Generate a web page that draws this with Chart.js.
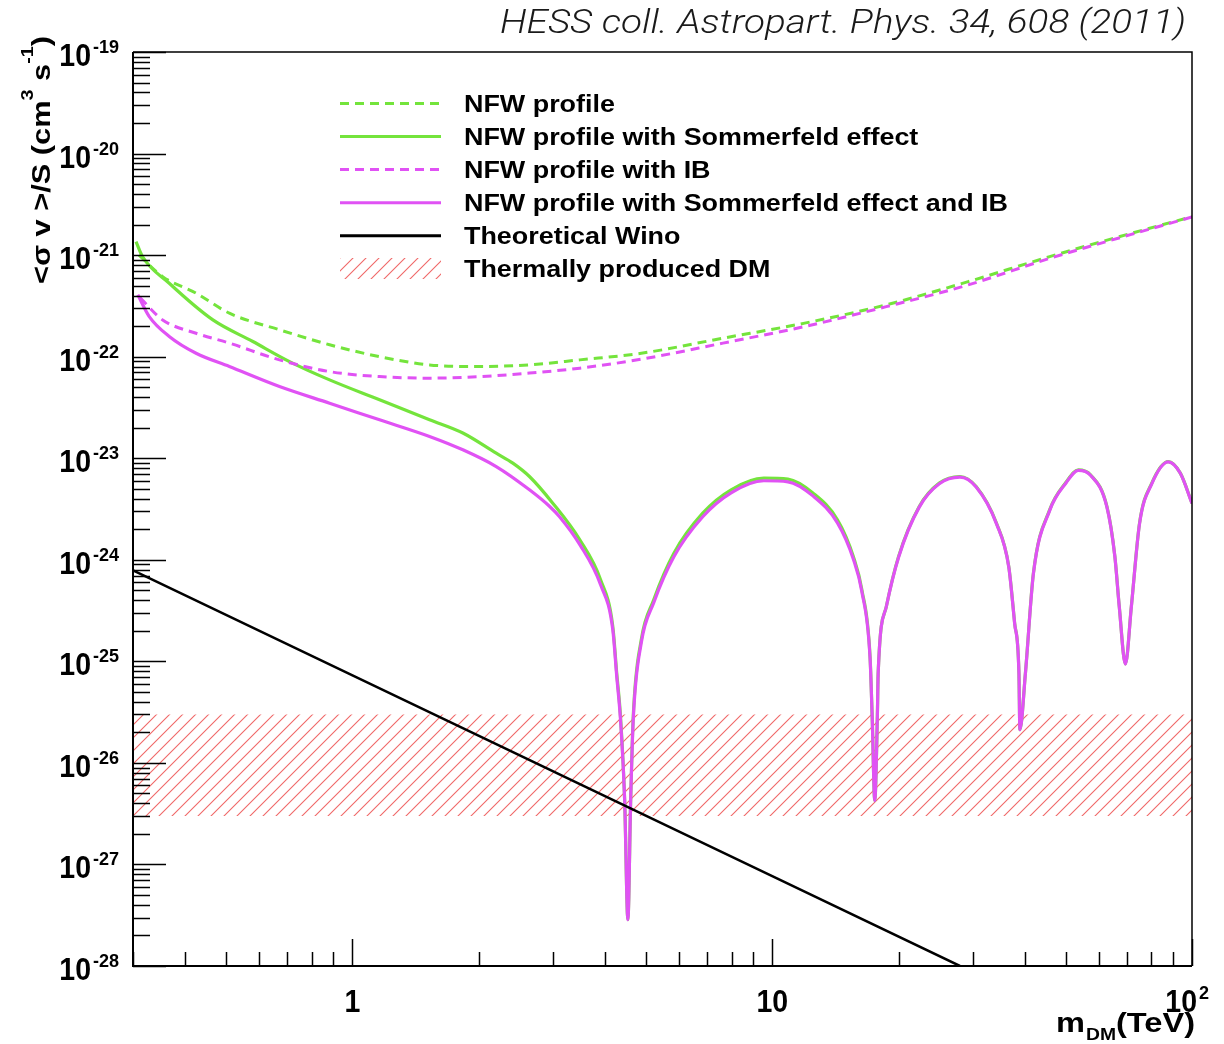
<!DOCTYPE html>
<html>
<head>
<meta charset="utf-8">
<script src="https://cdn.jsdelivr.net/npm/chart.js@4/dist/chart.umd.min.js"></script>
<style>
html,body{margin:0;padding:0;background:#fff;}
#wrap{width:1224px;height:1044px;position:relative;}
canvas{display:block;}
</style>
</head>
<body>
<div id="wrap"><canvas id="c" width="1224" height="1044"></canvas></div>
<script>
// ---------- data (m_DM in TeV, <sigma v>/S in cm^3 s^-1) ----------
const nfwMass   = [0.31, 0.353, 0.424, 0.509, 0.670, 0.882, 1.16, 1.526, 2.01, 2.64, 3.48, 4.875, 7.63, 11.95, 18.7, 29.3, 45.8, 71.7, 100];
const nfwValues = [1.0e-21, 6.14e-22, 4.22e-22, 2.68e-22, 1.84e-22, 1.31e-22, 1.0e-22, 8.3e-23, 8.0e-23, 8.3e-23, 9.3e-23, 1.08e-22, 1.52e-22, 2.14e-22, 3.24e-22, 5.48e-22, 9.66e-22, 1.64e-21, 2.39e-21];

const nfwIbMass   = [0.312, 0.353, 0.424, 0.509, 0.670, 0.882, 1.16, 1.526, 2.01, 2.64, 3.48, 4.875, 7.63, 11.95, 18.7, 29.3, 45.8, 71.7, 100];
const nfwIbValues = [3.79e-22, 2.30e-22, 1.70e-22, 1.36e-22, 9.3e-23, 7.13e-23, 6.37e-23, 6.14e-23, 6.37e-23, 6.89e-23, 7.71e-23, 9.44e-23, 1.36e-22, 1.98e-22, 3.11e-22, 5.09e-22, 9.29e-22, 1.60e-21, 2.37e-21];

const sommMass = [0.305, 0.316, 0.366, 0.465, 0.579, 0.708, 0.882, 1.16, 1.526, 1.832,
  2.20, 2.41, 2.64, 3.00, 3.48, 3.90, 4.17, 4.26, 4.35, 4.45,
  4.53, 4.60, 4.665, 4.875, 5.22, 5.83, 6.83, 7.98, 9.55, 10.9,
  12.5, 14.3, 15.6, 16.35, 17.1, 17.3, 17.55, 17.8, 17.88, 18.7,
  20.0, 22.4, 25.0, 28.0, 30.6, 34.2, 36.6, 37.8, 38.7, 38.9,
  40.1, 41.9, 45.8, 50.1, 53.6, 57.3, 62.7, 65.5, 67.1, 69.4,
  71.7, 75.0, 80.2, 87.8, 93.8, 100];
const sommValues = [1.36e-21, 9.7e-22, 5.28e-22, 2.30e-22, 1.41e-22, 8.95e-23, 5.91e-23, 3.76e-23, 2.39e-23, 1.77e-23,
  1.12e-23, 8.95e-24, 6.61e-24, 3.61e-24, 1.57e-24, 6.35e-25, 2.21e-25, 7.73e-26, 2.87e-26, 4.35e-27,
  2.86e-28, 4.35e-27, 2.87e-26, 1.63e-25, 4.04e-25, 1.16e-24, 2.88e-24, 4.89e-24, 6.37e-24, 6.22e-24,
  4.54e-24, 2.48e-24, 1.08e-24, 5.07e-25, 1.12e-25, 2.87e-26, 4.25e-27, 2.87e-26, 7.67e-26, 3.47e-25,
  1.08e-24, 3.35e-24, 5.69e-24, 6.61e-24, 5.26e-24, 2.30e-24, 8.59e-25, 2.38e-25, 7.67e-26, 2.12e-26,
  7.67e-26, 7.4e-25, 3.1e-24, 5.8e-24, 7.69e-24, 6.87e-24, 3.35e-24, 1.08e-24, 3.47e-25, 9.46e-26,
  3.47e-25, 2.30e-24, 5.69e-24, 9.27e-24, 7.13e-24, 3.61e-24];

const sommIbMass = [0.308, 0.328, 0.366, 0.424, 0.509, 0.670, 0.882, 1.16, 1.526, 1.832,
  2.20, 2.64, 2.95, 3.11, 3.48, 3.90, 4.17, 4.26, 4.35, 4.45,
  4.53, 4.60, 4.665, 4.875, 5.22, 5.83, 6.83, 7.98, 9.55, 10.9,
  12.5, 14.3, 15.6, 16.35, 17.1, 17.3, 17.55, 17.8, 17.88, 18.7,
  20.0, 22.4, 25.0, 28.0, 30.6, 34.2, 36.6, 37.8, 38.7, 38.9,
  40.1, 41.9, 45.8, 50.1, 53.6, 57.3, 62.7, 65.5, 67.1, 69.4,
  71.7, 75.0, 80.2, 87.8, 93.8, 100];
const sommIbValues = [4.06e-22, 2.48e-22, 1.58e-22, 1.08e-22, 8.0e-23, 5.08e-23, 3.48e-23, 2.39e-23, 1.64e-23, 1.21e-23,
  8.28e-24, 4.89e-24, 3.35e-24, 2.67e-24, 1.41e-24, 5.67e-25, 2.05e-25, 7.2e-26, 2.66e-26, 4.35e-27,
  2.86e-28, 4.35e-27, 2.66e-26, 1.52e-25, 3.78e-25, 1.07e-24, 2.65e-24, 4.56e-24, 6.0e-24, 5.86e-24,
  4.26e-24, 2.31e-24, 1.02e-24, 4.84e-25, 1.08e-25, 2.87e-26, 4.25e-27, 2.87e-26, 7.67e-26, 3.47e-25,
  1.06e-24, 3.3e-24, 5.6e-24, 6.5e-24, 5.2e-24, 2.27e-24, 8.5e-25, 2.35e-25, 7.6e-26, 2.12e-26,
  7.6e-26, 7.3e-25, 3.05e-24, 5.7e-24, 7.6e-24, 6.8e-24, 3.3e-24, 1.07e-24, 3.45e-25, 9.4e-26,
  3.45e-25, 2.27e-24, 5.6e-24, 9.2e-24, 7.1e-24, 3.58e-24];

const winoMass   = [0.3, 1, 10, 28];
const winoValues = [7.85e-25, 7.28e-26, 7.69e-28, 1.0e-28];

const thermalMass = [0.3, 100];
const thermalHigh = [3e-26, 3e-26];
const thermalLow  = [3e-27, 3e-27];

const legendLabels = [
  'NFW profile',
  'NFW profile with Sommerfeld effect',
  'NFW profile with IB',
  'NFW profile with Sommerfeld effect and IB',
  'Theoretical Wino',
  'Thermally produced DM'
];
const yTickExponents = ['-19','-20','-21','-22','-23','-24','-25','-26','-27','-28'];
const xTickValues = [1, 10, 100];
const xTickBase   = ['1', '10', '10'];
const xTickSup    = ['', '', '2'];
const headerText  = 'HESS coll. Astropart. Phys. 34, 608 (2011)';
const xTitleParts = ['m', 'DM', '(TeV)'];
const yTitleParts = ['<\u03c3 v >/S (cm', '3', ' s', '-1', ')'];

// ---------- styling ----------
const GREEN = '#74e43c';
const MAGENTA = '#e052f4';
const HATCH_COLOR = 'rgb(240,104,104)';

function makeHatch() {
  const n = 13;
  const c = document.createElement('canvas');
  c.width = n; c.height = n;
  const g = c.getContext('2d');
  g.strokeStyle = HATCH_COLOR;
  g.lineWidth = 1.1;
  g.beginPath();
  g.moveTo(-1, n + 1); g.lineTo(n + 1, -1);
  g.moveTo(-1, 1); g.lineTo(1, -1);
  g.moveTo(n - 1, n + 1); g.lineTo(n + 1, n - 1);
  g.stroke();
  return g.createPattern(c, 'repeat');
}
const hatch = makeHatch();

const pts = (xs, ys) => xs.map((x, i) => ({x: x, y: ys[i]}));

function drawScaled(ctx, text, x, y, font, sx, align) {
  ctx.save();
  ctx.font = font;
  ctx.translate(x, y);
  ctx.scale(sx, 1);
  ctx.textAlign = align || 'left';
  ctx.textBaseline = 'alphabetic';
  ctx.fillText(text, 0, 0);
  ctx.restore();
}

const BOLD = "'Liberation Sans', Arial, Helvetica, sans-serif";

const decor = {
  id: 'decor',
  afterDraw(chart) {
    const ctx = chart.ctx;
    const a = chart.chartArea;
    const xs = chart.scales.x, ys = chart.scales.y;
    ctx.save();
    ctx.fillStyle = '#000';
    ctx.strokeStyle = '#000';

    // frame
    ctx.lineWidth = 1.5;
    ctx.beginPath();
    ctx.moveTo(a.left, a.top); ctx.lineTo(a.right, a.top); ctx.lineTo(a.right, a.bottom);
    ctx.stroke();
    ctx.lineWidth = 2;
    ctx.beginPath();
    ctx.moveTo(a.left, a.top); ctx.lineTo(a.left, a.bottom); ctx.lineTo(a.right, a.bottom);
    ctx.stroke();

    // y ticks (inside)
    ctx.lineWidth = 1.5;
    ctx.beginPath();
    for (let e = -28; e <= -19; e++) {
      for (let k = 1; k <= 9; k++) {
        const v = k * Math.pow(10, e);
        if (v > 1.0001e-19) break;
        const py = Math.round(ys.getPixelForValue(v)) + 0.5;
        const len = k === 1 ? 33 : 17;
        ctx.moveTo(a.left, py); ctx.lineTo(a.left + len, py);
      }
    }
    // x ticks (inside)
    for (let e = -1; e <= 2; e++) {
      for (let k = 1; k <= 9; k++) {
        const v = k * Math.pow(10, e);
        if (v < 0.3 - 1e-9 || v > 100.0001) continue;
        const px = Math.round(xs.getPixelForValue(v)) + 0.5;
        const len = k === 1 ? 27 : 14;
        ctx.moveTo(px, a.bottom); ctx.lineTo(px, a.bottom - len);
      }
    }
    ctx.stroke();

    // y tick labels
    yTickExponents.forEach((ex) => {
      const py = ys.getPixelForValue(Math.pow(10, Number(ex)));
      drawScaled(ctx, '10', 91, py + 14, 'bold 31px ' + BOLD, 0.92, 'right');
      drawScaled(ctx, ex, 93, py + 1, 'bold 19px ' + BOLD, 0.95, 'left');
    });

    // x tick labels
    xTickValues.forEach((v, i) => {
      const px = xs.getPixelForValue(v);
      if (xTickSup[i]) {
        drawScaled(ctx, xTickBase[i], px + 5, 1012, 'bold 31px ' + BOLD, 0.92, 'right');
        drawScaled(ctx, xTickSup[i], px + 7, 999, 'bold 19px ' + BOLD, 0.95, 'left');
      } else {
        drawScaled(ctx, xTickBase[i], px, 1012, 'bold 31px ' + BOLD, 0.92, 'center');
      }
    });

    // x title: m_DM(TeV)
    {
      const fMain = 'bold 27px ' + BOLD, fSub = 'bold 16px ' + BOLD;
      ctx.font = fMain; const w1 = ctx.measureText(xTitleParts[0]).width, w3 = ctx.measureText(xTitleParts[2]).width;
      ctx.font = fSub; const w2 = ctx.measureText(xTitleParts[1]).width;
      const sx = 138 / (w1 + w2 + w3);
      let x = 1056;
      drawScaled(ctx, xTitleParts[0], x, 1032, fMain, sx); x += w1 * sx + 1;
      drawScaled(ctx, xTitleParts[1], x, 1040, fSub, sx); x += w2 * sx;
      drawScaled(ctx, xTitleParts[2], x, 1032, fMain, sx);
    }

    // y title rotated
    {
      const fMain = 'bold 25px ' + BOLD, fSup = 'bold 16px ' + BOLD;
      const runs = yTitleParts.map((t, i) => ({t: t, f: (i % 2 === 1) ? fSup : fMain, dy: (i % 2 === 1) ? -17 : 0}));
      let total = 0;
      runs.forEach(r => { ctx.font = r.f; r.w = ctx.measureText(r.t).width; total += r.w; });
      const sx = 248 / total;
      ctx.save();
      ctx.translate(50, 284);
      ctx.rotate(-Math.PI / 2);
      let x = 0;
      runs.forEach(r => { drawScaled(ctx, r.t, x, r.dy, r.f, sx); x += r.w * sx; });
      ctx.restore();
    }

    // header
    {
      const f = "italic 300 33px Roboto, 'Liberation Sans', sans-serif";
      ctx.font = f;
      const w = ctx.measureText(headerText).width;
      ctx.fillStyle = '#1a1a1a';
      drawScaled(ctx, headerText, 500, 33, f, 686 / w);
      ctx.fillStyle = '#000';
    }

    // legend
    {
      const f = 'bold 24px ' + BOLD;
      ctx.font = f;
      const sx = 544 / ctx.measureText(legendLabels[3]).width;
      const styles = [
        {c: GREEN, d: [9, 6]}, {c: GREEN, d: []}, {c: MAGENTA, d: [9, 6]},
        {c: MAGENTA, d: []}, {c: '#000', d: []}, {hatch: true}
      ];
      legendLabels.forEach((lab, i) => {
        const base = 112 + 33.05 * i;
        const my = base - 8.5;
        const s = styles[i];
        if (s.hatch) {
          ctx.save();
          ctx.fillStyle = hatch;
          ctx.fillRect(340, Math.round(my - 11), 101, 21);
          ctx.restore();
        } else {
          ctx.save();
          ctx.strokeStyle = s.c;
          ctx.lineWidth = 3;
          ctx.setLineDash(s.d);
          ctx.beginPath(); ctx.moveTo(340, my); ctx.lineTo(441, my); ctx.stroke();
          ctx.restore();
        }
        drawScaled(ctx, lab, 464, base, f, sx);
      });
    }
    ctx.restore();
  }
};

const lineDefaults = {pointRadius: 0, pointHoverRadius: 0, fill: false, cubicInterpolationMode: 'monotone'};

new Chart(document.getElementById('c'), {
  type: 'line',
  data: {
    datasets: [
      Object.assign({label: legendLabels[4], data: pts(winoMass, winoValues), borderColor: '#000', borderWidth: 2.5}, lineDefaults, {cubicInterpolationMode: 'default', tension: 0}),
      Object.assign({label: legendLabels[3], data: pts(sommIbMass, sommIbValues), borderColor: MAGENTA, borderWidth: 3.2}, lineDefaults),
      Object.assign({label: legendLabels[2], data: pts(nfwIbMass, nfwIbValues), borderColor: MAGENTA, borderWidth: 3, borderDash: [9, 6]}, lineDefaults),
      Object.assign({label: legendLabels[1], data: pts(sommMass, sommValues), borderColor: GREEN, borderWidth: 3.2}, lineDefaults),
      Object.assign({label: legendLabels[0], data: pts(nfwMass, nfwValues), borderColor: GREEN, borderWidth: 3, borderDash: [9, 6]}, lineDefaults),
      Object.assign({}, lineDefaults, {label: legendLabels[5], data: pts(thermalMass, thermalHigh), borderWidth: 0, borderColor: 'rgba(0,0,0,0)', backgroundColor: hatch, fill: '+1', cubicInterpolationMode: 'default', tension: 0}),
      Object.assign({}, lineDefaults, {label: 'thermal lower edge', data: pts(thermalMass, thermalLow), borderWidth: 0, borderColor: 'rgba(0,0,0,0)', cubicInterpolationMode: 'default', tension: 0})
    ]
  },
  options: {
    responsive: false,
    animation: false,
    devicePixelRatio: 1,
    layout: {padding: {left: 133, right: 32, top: 52, bottom: 78}},
    scales: {
      x: {type: 'logarithmic', min: 0.3, max: 100, display: false},
      y: {type: 'logarithmic', min: 1e-28, max: 1e-19, display: false}
    },
    plugins: {legend: {display: false}, tooltip: {enabled: false}},
    events: []
  },
  plugins: [decor]
});
</script>
</body>
</html>
